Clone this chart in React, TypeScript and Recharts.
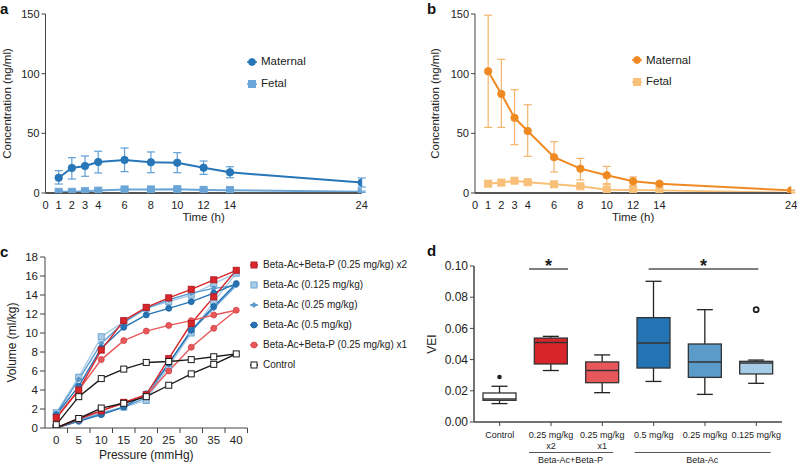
import React from "react";
import {
  LineChart,
  Line,
  XAxis,
  YAxis,
  ErrorBar,
  Legend,
  ComposedChart,
  Bar,
  ReferenceLine,
} from "recharts";

const FONT = "'Liberation Sans', Arial, Helvetica, sans-serif";
const AXIS = "#444";
const INK = "#222";

// ---- panels a & b: plasma concentration over time ----
const hours = [1, 2, 3, 4, 6, 8, 10, 12, 14, 24];
const hourTicks = [0, 1, 2, 3, 4, 6, 8, 10, 12, 14, 24];
const concTicks = [0, 50, 100, 150];

const aMaternal = [12.8, 21, 22.6, 26, 27.7, 25.7, 25.4, 21.2, 17.3, 8.7];
const aMaternalLow = [7.5, 11.7, 14, 16.8, 17.9, 17, 17, 15.6, 12.8, 5];
const aMaternalHigh = [18.7, 29.6, 31, 35, 37.7, 34.4, 33.8, 26.8, 22, 12.6];
const aFetal = [1, 1, 1.5, 2, 3, 3, 3.2, 2.6, 2.4, 1];
const aFetalLow = [0.4, 0.4, 0.8, 1.2, 2, 2, 2.2, 1.8, 1.6, 0.5];
const aFetalHigh = [1.6, 1.7, 2.3, 2.9, 4.1, 4, 4.3, 3.5, 3.2, 1.6];

const bMaternal = [102, 83, 63, 52, 30, 20.4, 14.8, 9.8, 7.8, 2.2];
const bMaternalLow = [55, 55, 40.5, 30.7, 17.6, 11, 7.8, 6.4, 7, 2];
const bMaternalHigh = [149, 112, 86.6, 74, 43, 29, 22.3, 13.4, 8.6, 2.4];
const bFetal = [7.8, 8.7, 10.3, 9, 7.3, 5.6, 2.8, 2.5, 2.2, 0.3];
const bFetalLow = [5.5, 6.5, 8.5, 7.5, 6, 4.5, 1, 1.5, 1.8, 0];
const bFetalHigh = [10, 11, 12, 10.5, 8.5, 6.8, 7, 3.5, 2.6, 0.6];

// ---- panel c: pressure-volume loops ----
const pressures = [0, 5, 10, 15, 20, 25, 30, 35, 40];
const volumeTicks = [0, 2, 4, 6, 8, 10, 12, 14, 16, 18];

const x2Inflation = [0, 1.0, 1.8, 2.7, 3.5, 7.3, 11.0, 13.8, 16.6];
const x2Deflation = [1.1, 4.0, 8.2, 11.3, 12.7, 13.7, 14.6, 15.6, 16.6];
const ac0125Inflation = [0, 0.9, 1.6, 2.2, 2.9, 6.5, 10.0, 13.3, 16.3];
const ac0125Deflation = [1.6, 5.35, 9.6, 11.2, 12.6, 13.3, 14.0, 15.2, 16.3];
const ac025Inflation = [0, 0.8, 1.5, 2.2, 3.2, 6.8, 10.2, 12.6, 15.0];
const ac025Deflation = [1.5, 5.1, 8.9, 11.1, 12.6, 13.5, 14.2, 14.7, 15.0];
const ac05Inflation = [0, 0.7, 1.4, 2.2, 3.6, 6.8, 10.3, 12.8, 15.2];
const ac05Deflation = [1.4, 4.4, 8.4, 10.6, 11.9, 12.6, 13.3, 14.2, 15.2];
const x1Inflation = [0, 0.9, 1.8, 2.6, 3.4, 6.0, 8.5, 10.5, 12.4];
const x1Deflation = [1.0, 4.0, 7.2, 9.2, 10.2, 10.8, 11.3, 11.9, 12.4];
const controlInflation = [0, 1.0, 2.1, 2.6, 3.3, 4.5, 5.7, 6.7, 7.8];
const controlDeflation = [0.35, 3.3, 5.2, 6.2, 6.9, 7.0, 7.2, 7.5, 7.8];

// ---- panel d: VEI box plots ----
const veiGroups = ["Control", "0.25 mg/kg x2", "0.25 mg/kg x1", "0.5 mg/kg", "0.25 mg/kg", "0.125 mg/kg"];
const veiLabels = [["Control"], ["0.25 mg/kg", "x2"], ["0.25 mg/kg", "x1"], ["0.5 mg/kg"], ["0.25 mg/kg"], ["0.125 mg/kg"]];
const veiMin = [0.0118, 0.033, 0.0188, 0.026, 0.0177, 0.0248];
const veiQ1 = [0.0139, 0.0372, 0.0252, 0.0346, 0.0286, 0.0308];
const veiMedian = [0.0147, 0.0509, 0.033, 0.0506, 0.0385, 0.0378];
const veiQ3 = [0.0186, 0.0538, 0.0385, 0.0669, 0.05, 0.0389];
const veiMax = [0.0229, 0.0549, 0.043, 0.0902, 0.072, 0.0397];
const veiOutlier = [0.0288, null, null, null, null, 0.072];
const veiTicks = [0, 0.02, 0.04, 0.06, 0.08, 0.1];
const boxColors = ["#ffffff", "#d8252a", "#e8585b", "#2474b4", "#5b9bca", "#a6cbe4"];

const pkRows = (m: number[], mLo: number[], mHi: number[], f: number[], fLo: number[], fHi: number[]) =>
  hours.map((h, i) => ({
    h,
    maternal: m[i],
    maternalErr: [m[i] - mLo[i], mHi[i] - m[i]],
    fetal: f[i],
    fetalErr: [f[i] - fLo[i], fHi[i] - f[i]],
  }));

const aRows = pkRows(aMaternal, aMaternalLow, aMaternalHigh, aFetal, aFetalLow, aFetalHigh);
const bRows = pkRows(bMaternal, bMaternalLow, bMaternalHigh, bFetal, bFetalLow, bFetalHigh);

// inflation goes 0 -> 40, deflation comes back 40 -> 0
const loop = (up: number[], down: number[]) => [
  ...pressures.map((p, i) => ({ p, v: up[i] })),
  ...pressures.slice(0, -1).map((p, i) => ({ p, v: down[i] })).reverse(),
];

const pvSeries = [
  { name: "Beta-Ac+Beta-P (0.25 mg/kg) x2", data: loop(x2Inflation, x2Deflation), color: "#d8262b", kind: "square", fill: "#d8262b", stroke: "#b51d22", size: 6 },
  { name: "Beta-Ac (0.125 mg/kg)", data: loop(ac0125Inflation, ac0125Deflation), color: "#a9cde6", kind: "square", fill: "#a9cde6", stroke: "#6fa6d2", size: 6 },
  { name: "Beta-Ac (0.25 mg/kg)", data: loop(ac025Inflation, ac025Deflation), color: "#5a9bd0", kind: "diamond", fill: "#5a9bd0", stroke: "#4a88bd", size: 5 },
  { name: "Beta-Ac (0.5 mg/kg)", data: loop(ac05Inflation, ac05Deflation), color: "#2674b5", kind: "circle", fill: "#2674b5", stroke: "#1f63a0", size: 6 },
  { name: "Beta-Ac+Beta-P (0.25 mg/kg) x1", data: loop(x1Inflation, x1Deflation), color: "#e8585a", kind: "circle", fill: "#e8585a", stroke: "#d24446", size: 6 },
  { name: "Control", data: loop(controlInflation, controlDeflation), color: "#1a1a1a", kind: "square", fill: "#ffffff", stroke: "#1a1a1a", size: 6 },
];
const pvDrawOrder = [1, 2, 3, 4, 0, 5];

const veiRows = veiGroups.map((name, i) => ({
  name,
  range: [veiMin[i], veiMax[i]],
  min: veiMin[i],
  q1: veiQ1[i],
  median: veiMedian[i],
  q3: veiQ3[i],
  max: veiMax[i],
  outlier: veiOutlier[i],
}));

function marker(kind: string, cx: number, cy: number, s: number, fill: string, stroke: string, key?: string) {
  if (kind === "circle") return <circle key={key} cx={cx} cy={cy} r={s / 2} fill={fill} stroke={stroke} strokeWidth={0.8} />;
  if (kind === "diamond")
    return (
      <polygon
        key={key}
        points={`${cx},${cy - s / 2} ${cx + s / 2},${cy} ${cx},${cy + s / 2} ${cx - s / 2},${cy}`}
        fill={fill}
        stroke={stroke}
        strokeWidth={0.8}
      />
    );
  return <rect key={key} x={cx - s / 2} y={cy - s / 2} width={s} height={s} fill={fill} stroke={stroke} strokeWidth={1} />;
}

const dotOf = (kind: string, s: number, fill: string, stroke: string) => (p: any) =>
  p.cx == null || p.cy == null ? <g key={`e${p.index}`} /> : marker(kind, p.cx, p.cy, s, fill, stroke, `d${p.index}`);

type LegendItem = { name: string; color: string; kind: string; fill: string; stroke: string; size: number };

function LegendRows({ items, rowHeight, fontSize, lineW, gap }: { items: LegendItem[]; rowHeight: number; fontSize: number; lineW: number; gap: number }) {
  return (
    <div style={{ fontSize, color: INK, lineHeight: 1, fontFamily: FONT }}>
      {items.map((it) => (
        <div key={it.name} style={{ display: "flex", alignItems: "center", height: rowHeight }}>
          <svg width={lineW} height={10} style={{ marginRight: gap, overflow: "visible" }}>
            <line x1={0} x2={lineW} y1={5} y2={5} stroke={it.color} strokeWidth={1.5} />
            {marker(it.kind, lineW / 2, 5, it.size, it.fill, it.stroke)}
          </svg>
          <span style={{ whiteSpace: "nowrap" }}>{it.name}</span>
        </div>
      ))}
    </div>
  );
}

const tickStyle = (size: number) => ({ fontSize: size, fill: INK, fontFamily: FONT });

function PkChart({ rows, maternal, maternalErr, fetal, width, marginLeft, yWidth, labelOffset, legendLeft, legendTop, legendRow }: any) {
  const items: LegendItem[] = [
    { name: "Maternal", color: maternal, kind: "circle", fill: maternal, stroke: maternal, size: 7 },
    { name: "Fetal", color: fetal, kind: "square", fill: fetal, stroke: fetal, size: 7 },
  ];
  return (
    <LineChart width={width} height={225} data={rows} margin={{ top: 14, right: width - marginLeft - yWidth - 316.2, bottom: 0, left: marginLeft }}>
      <XAxis
        dataKey="h"
        type="number"
        domain={[0, 24]}
        ticks={hourTicks}
        interval={0}
        allowDataOverflow
        tickLine={false}
        axisLine={{ stroke: "#555", strokeWidth: 2 }}
        tick={tickStyle(11)}
        height={32}
        label={{ value: "Time (h)", position: "insideBottom", offset: 4, fontSize: 11.5, fill: INK }}
      />
      <YAxis
        type="number"
        domain={[0, 150]}
        ticks={concTicks}
        allowDataOverflow
        width={yWidth}
        tickSize={4}
        tickLine={{ stroke: AXIS }}
        axisLine={{ stroke: AXIS }}
        tick={tickStyle(11)}
        label={{ value: "Concentration (ng/ml)", angle: -90, position: "insideLeft", offset: labelOffset, fontSize: 11.5, fill: INK, style: { textAnchor: "middle" } }}
      />
      <Line dataKey="fetal" stroke={fetal} strokeWidth={2} dot={dotOf("square", 7, fetal, fetal)} activeDot={false} isAnimationActive={false}>
        <ErrorBar dataKey="fetalErr" width={4} stroke={fetal} strokeWidth={1.2} />
      </Line>
      <Line dataKey="maternal" stroke={maternal} strokeWidth={2} dot={dotOf("circle", 7.5, maternal, maternal)} activeDot={false} isAnimationActive={false}>
        <ErrorBar dataKey="maternalErr" width={4} stroke={maternalErr} strokeWidth={1.2} />
      </Line>
      <Legend
        layout="vertical"
        align="center"
        verticalAlign="middle"
        wrapperStyle={{ left: legendLeft, top: legendTop, width: "auto" }}
        content={() => <LegendRows items={items} rowHeight={legendRow} fontSize={11.5} lineW={10} gap={4} />}
      />
    </LineChart>
  );
}

// pressure axis: labels under each value, tick marks between categories
const PressureTick = (p: any) => {
  const { x, y, payload } = p;
  const half = 11.25;
  return (
    <g>
      <line x1={x + half} x2={x + half} y1={y - 7} y2={y - 2} stroke={AXIS} />
      <text x={x} y={y + 9} textAnchor="middle" fontSize={11.5} fill={INK}>
        {payload.value}
      </text>
    </g>
  );
};

const VeiTick = (p: any) => {
  const { x, y, index } = p;
  const lines = veiLabels[index] || [];
  return (
    <g fontSize={9} fill={INK}>
      <text x={x} y={y + 9.5} textAnchor="middle">{lines[0]}</text>
      {lines[1] && <text x={x} y={y + 21} textAnchor="middle">{lines[1]}</text>}
      {index === 1 && (
        <g>
          <line x1={x - 22} x2={x + 62} y1={y + 24.5} y2={y + 24.5} stroke="#555" />
          <text x={x + 19.5} y={y + 34.5} textAnchor="middle">Beta-Ac+Beta-P</text>
        </g>
      )}
      {index === 3 && (
        <g>
          <line x1={x - 19} x2={x + 117} y1={y + 24.5} y2={y + 24.5} stroke="#555" />
          <text x={x + 48.5} y={y + 34.5} textAnchor="middle">Beta-Ac</text>
        </g>
      )}
    </g>
  );
};

const BoxShape = (p: any) => {
  const { x, y, width, height, payload, index } = p;
  const top = Math.min(y, y + height);
  const h = Math.abs(height);
  const k = h / (payload.max - payload.min);
  const yOf = (v: number) => top + (payload.max - v) * k;
  const cx = x + width / 2;
  const cap = 8;
  return (
    <g>
      <line x1={cx} x2={cx} y1={yOf(payload.max)} y2={yOf(payload.q3)} stroke={INK} strokeWidth={1.3} />
      <line x1={cx} x2={cx} y1={yOf(payload.q1)} y2={yOf(payload.min)} stroke={INK} strokeWidth={1.3} />
      <line x1={cx - cap} x2={cx + cap} y1={yOf(payload.max)} y2={yOf(payload.max)} stroke={INK} strokeWidth={1.3} />
      <line x1={cx - cap} x2={cx + cap} y1={yOf(payload.min)} y2={yOf(payload.min)} stroke={INK} strokeWidth={1.3} />
      <rect x={x} y={yOf(payload.q3)} width={width} height={yOf(payload.q1) - yOf(payload.q3)} fill={boxColors[index]} stroke="#333" strokeWidth={1.3} />
      <line x1={x} x2={x + width} y1={yOf(payload.median)} y2={yOf(payload.median)} stroke="#333" strokeWidth={1.5} />
      {payload.outlier != null &&
        (index === 0 ? (
          <circle cx={cx} cy={yOf(payload.outlier)} r={2.3} fill={INK} />
        ) : (
          <circle cx={cx} cy={yOf(payload.outlier)} r={2.5} fill="#fff" stroke={INK} strokeWidth={1.8} />
        ))}
    </g>
  );
};

const sigShape = (left: number, right: number) => (p: any) => (
  <g>
    <line x1={p.x1 - left} x2={p.x2 + right} y1={p.y1} y2={p.y2} stroke="#555" strokeWidth={1.5} />
    <text x={(p.x1 - left + p.x2 + right) / 2} y={p.y1 + 3} textAnchor="middle" fontSize={18} fontWeight="bold" fill={INK}>
      *
    </text>
  </g>
);

export default function App() {
  return (
    <div style={{ position: "absolute", left: 0, top: 0, width: 797, height: 465, background: "#fff", fontFamily: FONT, overflow: "hidden" }}>
      <div style={{ position: "absolute", left: 0, top: 0 }}>
        <PkChart rows={aRows} maternal="#2676b8" maternalErr="#5f9fd6" fetal="#6aa5d8" width={380} marginLeft={0} yWidth={45.5} labelOffset={7} legendLeft={247} legendTop={51} legendRow={22} />
      </div>
      <div style={{ position: "absolute", left: 420, top: 0 }}>
        <PkChart rows={bRows} maternal="#ef8a22" maternalErr="#f5b46a" fetal="#f8c078" width={377} marginLeft={0} yWidth={55} labelOffset={15} legendLeft={212} legendTop={49.5} legendRow={21.5} />
      </div>

      <div style={{ position: "absolute", left: 0, top: 235 }}>
        <LineChart width={400} height={230} margin={{ top: 22, right: 152.5, bottom: 0, left: 0 }}>
          <XAxis
            dataKey="p"
            type="number"
            domain={[-2.5, 42.5]}
            ticks={pressures}
            interval={0}
            allowDataOverflow
            tickLine={false}
            tickSize={5}
            axisLine={{ stroke: AXIS }}
            tick={<PressureTick />}
            height={37}
            label={{ value: "Pressure (mmHg)", position: "insideBottom", offset: 6, fontSize: 12, fill: INK }}
          />
          <YAxis
            type="number"
            domain={[0, 18]}
            ticks={volumeTicks}
            interval={0}
            allowDataOverflow
            width={45}
            tickSize={5}
            tickLine={{ stroke: AXIS }}
            axisLine={{ stroke: AXIS }}
            tick={tickStyle(11.5)}
            label={{ value: "Volume (ml/kg)", angle: -90, position: "insideLeft", offset: 12, fontSize: 12, fill: INK, style: { textAnchor: "middle" } }}
          />
          {pvDrawOrder.map((i) => {
            const s = pvSeries[i];
            return (
              <Line
                key={s.name}
                data={s.data}
                dataKey="v"
                name={s.name}
                stroke={s.color}
                strokeWidth={1.4}
                dot={dotOf(s.kind, s.size, s.fill, s.stroke)}
                activeDot={false}
                isAnimationActive={false}
              />
            );
          })}
          <Legend
            layout="vertical"
            align="center"
            verticalAlign="middle"
            wrapperStyle={{ left: 250, top: 20, width: "auto" }}
            content={() => <LegendRows items={pvSeries} rowHeight={20} fontSize={10} lineW={8} gap={5} />}
          />
        </LineChart>
      </div>

      <div style={{ position: "absolute", left: 400, top: 235 }}>
        <ComposedChart width={397} height={230} data={veiRows} margin={{ top: 31, right: 15, bottom: 0, left: 0 }}>
          <XAxis
            dataKey="name"
            type="category"
            interval={0}
            tickSize={4}
            tickLine={{ stroke: AXIS }}
            axisLine={{ stroke: AXIS, strokeWidth: 1.5 }}
            tick={<VeiTick />}
            height={43}
          />
          <YAxis
            type="number"
            domain={[0, 0.1]}
            ticks={veiTicks}
            interval={0}
            allowDataOverflow
            width={74}
            tickSize={4}
            tickLine={{ stroke: AXIS }}
            axisLine={{ stroke: AXIS, strokeWidth: 1.5 }}
            tick={tickStyle(12)}
            tickFormatter={(v: number) => v.toFixed(2)}
            label={{ value: "VEI", angle: -90, position: "insideLeft", offset: 32, fontSize: 12, fill: INK, style: { textAnchor: "middle" } }}
          />
          <Bar dataKey="range" barSize={33} shape={BoxShape} isAnimationActive={false} />
          <ReferenceLine
            segment={[{ x: "0.25 mg/kg x2", y: 0.098 }, { x: "0.25 mg/kg x2", y: 0.098 }]}
            shape={sigShape(22, 17)}
          />
          <ReferenceLine
            segment={[{ x: "0.5 mg/kg", y: 0.098 }, { x: "0.125 mg/kg", y: 0.098 }]}
            shape={sigShape(5, 2)}
          />
        </ComposedChart>
      </div>

      <svg width={797} height={465} style={{ position: "absolute", left: 0, top: 0, pointerEvents: "none" }}>
        <g fontSize={15} fontWeight="bold" fill="#111">
          <text x={0} y={13.5}>a</text>
          <text x={427} y={13.5}>b</text>
          <text x={0} y={257}>c</text>
          <text x={427} y={256}>d</text>
        </g>
      </svg>
    </div>
  );
}
